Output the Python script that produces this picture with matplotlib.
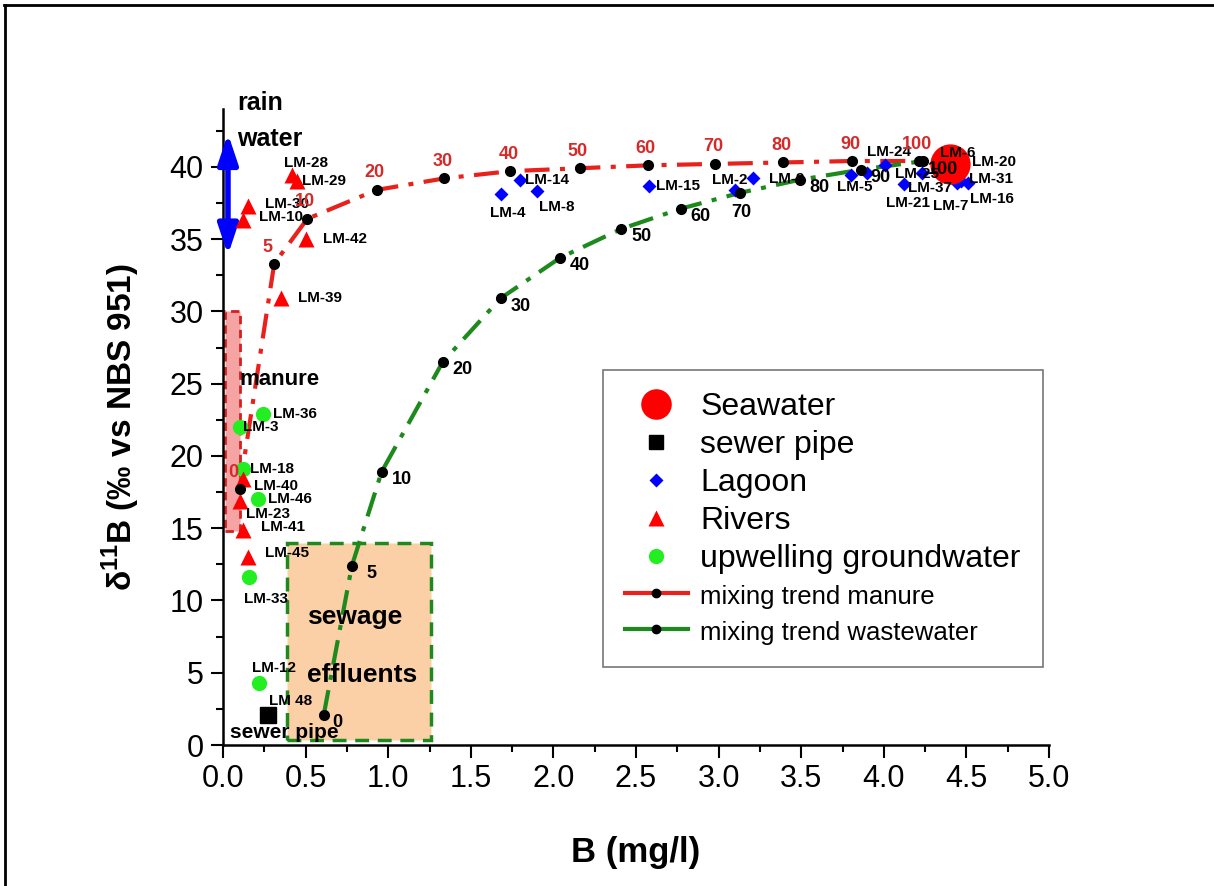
import matplotlib.pyplot as plt
from matplotlib.lines import Line2D
from matplotlib.patches import Rectangle

plt.rcParams['font.family'] = ['Liberation Sans', 'DejaVu Sans']
plt.rcParams['mathtext.fontset'] = 'custom'
plt.rcParams['mathtext.rm'] = 'Liberation Sans:bold'
plt.rcParams['mathtext.bf'] = 'Liberation Sans:bold'

# mixing trend manure -> seawater (% seawater on each dot)
manure_pct = [0, 5, 10, 20, 30, 40, 50, 60, 70, 80, 90, 100]
manure_b = [0.10, 0.31, 0.51, 0.93, 1.34, 1.74, 2.16, 2.57, 2.98, 3.39, 3.81, 4.21]
manure_d11b = [17.7, 33.3, 36.4, 38.4, 39.2, 39.7, 39.9, 40.1, 40.2, 40.3, 40.4, 40.4]

# mixing trend wastewater -> seawater
waste_pct = [0, 5, 10, 20, 30, 40, 50, 60, 70, 80, 90, 100]
waste_b = [0.61, 0.78, 0.96, 1.33, 1.68, 2.04, 2.41, 2.77, 3.13, 3.49, 3.86, 4.24]
waste_d11b = [2.1, 12.4, 18.9, 26.5, 30.9, 33.7, 35.7, 37.1, 38.2, 39.1, 39.8, 40.4]

seawater_b = [4.40]
seawater_d11b = [40.2]

sewer_names = ['LM 48']
sewer_b = [0.27]
sewer_d11b = [2.1]

lagoon_names = ['LM-4', 'LM-14', 'LM-8', 'LM-15', 'LM-2', 'LM-9', 'LM-5', 'LM-25',
                'LM-24', 'LM-21', 'LM-37', 'LM-6', 'LM-20', 'LM-7', 'LM-31', 'LM-16']
lagoon_b = [1.68, 1.80, 1.90, 2.58, 3.10, 3.21, 3.80, 3.90,
            4.01, 4.12, 4.23, 4.37, 4.43, 4.44, 4.47, 4.51]
lagoon_d11b = [38.1, 39.1, 38.3, 38.7, 38.4, 39.2, 39.4, 39.6,
               40.1, 38.8, 39.6, 40.3, 39.9, 38.9, 39.0, 38.9]

river_names = ['LM-28', 'LM-29', 'LM-30', 'LM-10', 'LM-42', 'LM-39',
               'LM-40', 'LM-23', 'LM-41', 'LM-45']
river_b = [0.42, 0.45, 0.15, 0.12, 0.50, 0.35, 0.12, 0.10, 0.12, 0.15]
river_d11b = [39.4, 39.0, 37.3, 36.3, 35.0, 30.9, 18.4, 16.9, 14.9, 13.0]

gw_names = ['LM-36', 'LM-3', 'LM-18', 'LM-46', 'LM-33', 'LM-12']
gw_b = [0.24, 0.10, 0.12, 0.21, 0.16, 0.22]
gw_d11b = [22.9, 22.0, 19.1, 17.0, 11.6, 4.3]

# end-member ranges
rain_b = 0.03
rain_range = (33.9, 42.3)
manure_box = (0.01, 0.10, 14.8, 30.0)
sewage_box = (0.39, 1.26, 0.35, 14.0)

# label offsets in pixels (right, down)
label_off = {
    'LM-28': (-8, -12), 'LM-29': (5, 0), 'LM-30': (17, -2), 'LM-10': (16, -3),
    'LM-42': (17, 0), 'LM-39': (17, 0), 'LM-40': (11, 7), 'LM-23': (6, 13),
    'LM-41': (18, -3), 'LM-45': (17, -4),
    'LM-36': (10, 0), 'LM-3': (3, 0), 'LM-18': (7, 0), 'LM-46': (10, 0),
    'LM-33': (-5, 22), 'LM-12': (-7, -15), 'LM 48': (1, -14),
    'LM-4': (-11, 19), 'LM-14': (5, 0), 'LM-8': (2, 16), 'LM-15': (7, 0),
    'LM-2': (-23, -10), 'LM-9': (16, 1), 'LM-5': (-14, 12), 'LM-25': (28, 1),
    'LM-24': (-18, -13), 'LM-21': (-18, 19), 'LM-37': (-14, 15),
    'LM-6': (-5, -9), 'LM-20': (17, -6), 'LM-7': (-24, 23), 'LM-31': (8, -2),
    'LM-16': (2, 16),
}

RED = '#ff0000'
LINE_RED = '#e8211c'
GREEN = '#1e8a1e'
LIME = '#22ee22'
BLUE = '#0000ff'

fig = plt.figure(figsize=(12.14, 8.86), dpi=100)
ax = fig.add_axes([0.1837, 0.1591, 0.6804, 0.7179])

# figure frame (top and left)
fig.add_artist(Line2D([0.003, 1.0], [1 - 5 / 886, 1 - 5 / 886], color='black', lw=2,
                      transform=fig.transFigure))
fig.add_artist(Line2D([5 / 1214, 5 / 1214], [0, 1 - 5 / 886], color='black', lw=2,
                      transform=fig.transFigure))

# end-member boxes
x0, x1, y0, y1 = sewage_box
ax.add_patch(Rectangle((x0, y0), x1 - x0, y1 - y0, facecolor='#fbd0a6',
                       edgecolor=GREEN, lw=2.5, linestyle=(0, (4, 2.5)), zorder=1))
x0, x1, y0, y1 = manure_box
ax.add_patch(Rectangle((x0, y0), x1 - x0, y1 - y0, facecolor='#f5a3a3',
                       edgecolor='#d42020', lw=2, linestyle=(0, (3, 2)), zorder=1))

# mixing lines
dash = (0, (6, 2.5, 1.2, 2.5))
ax.plot(manure_b, manure_d11b, color=LINE_RED, lw=3, linestyle=dash, zorder=2)
ax.plot(waste_b, waste_d11b, color=GREEN, lw=3, linestyle=dash, zorder=2)

# rain water arrow
ax.annotate('', xy=(rain_b, rain_range[1]), xytext=(rain_b, rain_range[0]),
            arrowprops=dict(arrowstyle='<|-|>,head_length=0.9,head_width=0.3',
                            color=BLUE, lw=4, mutation_scale=20,
                            shrinkA=0, shrinkB=0), zorder=3)

# samples
ax.plot(gw_b, gw_d11b, 'o', color=LIME, ms=11, mec='none', zorder=3)
ax.plot(river_b, river_d11b, '^', color=RED, ms=12, mec='none', zorder=3)
ax.plot(lagoon_b, lagoon_d11b, 'D', color=BLUE, ms=7, mec='none', zorder=3)
ax.plot(sewer_b, sewer_d11b, 's', color='black', ms=11, zorder=3)
ax.plot(manure_b, manure_d11b, 'o', color='black', ms=7, zorder=4)
ax.plot(waste_b, waste_d11b, 'o', color='black', ms=7, zorder=4)
ax.plot(seawater_b, seawater_d11b, 'o', color=RED, ms=29, mec='none', zorder=4)


def sample_labels(names, xs, ys):
    for n, x, y in zip(names, xs, ys):
        dx, dy = label_off[n]
        ax.annotate(n, (x, y), xytext=(dx, -dy), textcoords='offset pixels',
                    ha='left', va='center', fontsize=11, fontweight='bold', zorder=5)


sample_labels(river_names, river_b, river_d11b)
sample_labels(gw_names, gw_b, gw_d11b)
sample_labels(lagoon_names, lagoon_b, lagoon_d11b)
sample_labels(sewer_names, sewer_b, sewer_d11b)

for p, x, y in zip(manure_pct, manure_b, manure_d11b):
    dx, dy = {0: (-6, -17), 5: (-7, -16)}.get(p, (-2, -17))
    ax.annotate(str(p), (x, y), xytext=(dx, -dy), textcoords='offset pixels',
                ha='center', va='center', fontsize=13, fontweight='bold',
                color='#d42a2a', zorder=5)

for p, x, y in zip(waste_pct, waste_b, waste_d11b):
    dx, dy = {0: (14, 8), 70: (1, 20)}.get(p, (20, 8))
    ax.annotate(str(p), (x, y), xytext=(dx, -dy), textcoords='offset pixels',
                ha='center', va='center', fontsize=13, fontweight='bold', zorder=5)

# region labels
ax.text(0.085, 44.4, 'rain', fontsize=18, fontweight='bold', va='center')
ax.text(0.085, 41.9, 'water', fontsize=18, fontweight='bold', va='center')
ax.text(0.097, 25.3, 'manure', fontsize=16, fontweight='bold', va='center')
ax.text(0.51, 8.85, 'sewage', fontsize=19, fontweight='bold', va='center')
ax.text(0.51, 4.85, 'effluents', fontsize=19, fontweight='bold', va='center')
ax.text(0.04, 0.9, 'sewer pipe', fontsize=15, fontweight='bold', va='center')

ax.set_xlim(0, 5)
ax.set_ylim(0, 44)
ax.set_xticks([i * 0.5 for i in range(11)])
ax.set_xticks([i * 0.25 for i in range(21)], minor=True)
ax.set_yticks(range(0, 45, 5))
ax.set_yticks([i * 2.5 for i in range(18)], minor=True)
ax.set_xticklabels([f'{i * 0.5:.1f}' for i in range(11)])
ax.tick_params(which='major', length=9, width=1.5, labelsize=22, pad=5)
ax.tick_params(which='minor', length=5, width=1.5)
for s in ['top', 'right']:
    ax.spines[s].set_visible(False)
for s in ['left', 'bottom']:
    ax.spines[s].set_linewidth(1.8)

ax.set_xlabel('B (mg/l)', fontsize=25, fontweight='bold', labelpad=30)
ax.set_ylabel('δ$^{11}$B (‰ vs NBS 951)', fontsize=24, fontweight='bold', labelpad=20)

handles = [
    Line2D([], [], marker='o', color=RED, ms=22, ls='none', mec='none'),
    Line2D([], [], marker='s', color='black', ms=10, ls='none'),
    Line2D([], [], marker='D', color=BLUE, ms=7, ls='none', mec='none'),
    Line2D([], [], marker='^', color=RED, ms=12, ls='none', mec='none'),
    Line2D([], [], marker='o', color=LIME, ms=11, ls='none', mec='none'),
    Line2D([], [], color=LINE_RED, lw=3, marker='o', mfc='black', mec='black', ms=6),
    Line2D([], [], color=GREEN, lw=3, marker='o', mfc='black', mec='black', ms=6),
]
labels = ['Seawater', 'sewer pipe', 'Lagoon', 'Rivers', 'upwelling groundwater',
          'mixing trend manure', 'mixing trend wastewater']
leg = ax.legend(handles, labels, loc='upper left', bbox_to_anchor=(0.46, 0.59),
                fontsize=23, frameon=True, fancybox=False, edgecolor='#777777',
                framealpha=1, handlelength=1.95, handletextpad=0.4,
                labelspacing=0.25, borderpad=0.7, borderaxespad=0)
leg.get_frame().set_linewidth(1.2)
for t in leg.get_texts()[5:]:
    t.set_fontsize(18.5)

fig.savefig('out.png', dpi=100)
